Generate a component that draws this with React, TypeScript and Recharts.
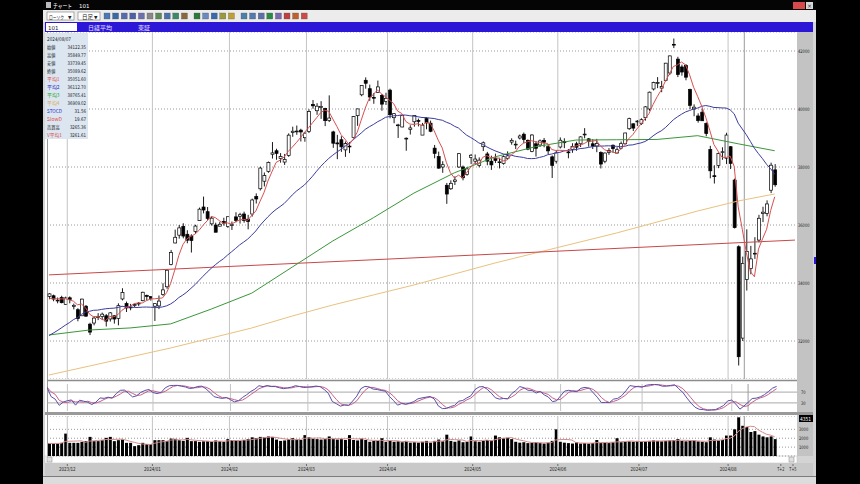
import React from 'react';
import { ComposedChart, Bar, Line, XAxis, YAxis, CartesianGrid, ReferenceLine } from 'recharts';

// 日経平均 日足 2023/11/24 - 2024/08/19
const priorCloses = [
  31430, 31259, 30999, 31062, 31269, 30601, 30991, 30696, 30858, 31601, 31949, 32708,
  32271, 32166, 32646, 32568, 32585, 32695, 33519, 33424, 33585, 33388, 33354, 33451,
];

const opens = [
  33540, 33560, 33390, 33500, 33260,
  33490, 33190, 33080, 32870, 33200, 32580, 32620, 32830, 32840, 32870, 32760, 32870, 32780, 33450, 33290, 33170, 33240, 33300, 33390, 33570, 33530,
  33200, 33210, 33600, 33870, 34640, 35380, 35650, 35950, 35680, 35620, 35780, 36150, 36620, 36460, 36040, 36000, 35960, 36120, 35950,
  36000, 36280, 36300, 36380, 36200, 36380, 36980, 37250, 37510, 37850, 38440, 38560, 38290, 38170, 38400, 39190, 39220, 39270, 39010,
  39230, 40160, 39940, 40050, 40020, 39600, 39210, 38830, 38940, 38590, 38720, 39020, 39770, 40490, 40990, 40700, 40400, 40570, 40470, 40260,
  40650, 39700, 39430, 39380, 38990, 39300, 39560, 39600, 39100, 39670, 39510, 38650, 38360, 38000, 37370, 37250, 37500, 38000, 38000, 37740, 38330,
  38200, 38050, 38700, 38450, 38200, 38300, 38150, 38120, 38300, 38860, 38770, 39000, 39130, 38920, 38540, 38800, 38760, 38920, 38700, 38350, 38200,
  38690, 38880, 38520, 38600, 38800, 38800, 39110, 38970, 38800, 38720, 38500, 38200, 38500, 38750, 38480, 38650, 38800, 39320, 39490, 39580,
  39500, 39700, 40000, 40690, 40900, 40720, 40980, 41240, 42230, 41720, 41450, 41500, 40670, 40000, 39760, 39890, 39500, 38600, 37700, 38050, 38520, 38300,
  38700, 37550, 35250, 32100, 34122, 34500, 35000, 35480, 36400, 36400, 37200, 37900,
];

const highs = [
  33650, 33600, 33500, 33560, 33530,
  33540, 33290, 33130, 33460, 33240, 32630, 32860, 32960, 32980, 32930, 33000, 32890, 33300, 33820, 33360, 33280, 33280, 33340, 33700, 33600, 33540,
  33300, 33570, 33990, 34480, 35140, 35840, 36000, 36060, 35820, 35680, 36010, 36600, 36980, 36620, 36290, 36080, 36110, 36250, 36290,
  36120, 36440, 36420, 36460, 36350, 36910, 37090, 38010, 37810, 38190, 38860, 38630, 38480, 38450, 39160, 39390, 39430, 39320, 39210,
  39990, 40310, 40200, 40270, 40040, 40470, 39250, 39110, 39060, 38880, 38860, 39760, 40010, 40820, 41090, 40840, 40550, 40980, 40520, 40560,
  40700, 39860, 39490, 39800, 39020, 39440, 39780, 39670, 39520, 39720, 39600, 38760, 38530, 38200, 37450, 37540, 37680, 38480, 38050, 38000, 38450,
  38430, 38330, 38880, 38520, 38390, 38460, 38320, 38400, 38540, 38990, 38910, 39120, 39190, 38950, 39130, 38890, 38950, 39000, 38770, 38400, 38570,
  39020, 38990, 38620, 38820, 38870, 39060, 39340, 39000, 38960, 38970, 38540, 38500, 38650, 38780, 38680, 38880, 39180, 39700, 39500, 39620,
  39680, 40100, 40600, 40940, 41100, 40970, 41590, 41840, 42430, 41800, 41530, 41550, 40700, 40160, 39850, 40000, 39540, 38730, 38060, 38500, 38680, 39180,
  38720, 37600, 35300, 34910, 35850, 35280, 35580, 36350, 36630, 36850, 38150, 38100,
];

const lows = [
  33440, 33370, 33300, 33300, 33250,
  33300, 33090, 32680, 32860, 32830, 32205, 32540, 32720, 32740, 32500, 32670, 32600, 32540, 33400, 33000, 33060, 33170, 33200, 33370, 33400, 33390,
  32690, 33100, 33560, 33800, 34610, 35370, 35530, 35540, 35370, 35050, 35700, 36150, 36400, 36160, 35980, 35750, 35950, 35980, 35900,
  35830, 36090, 36050, 36080, 35850, 36290, 36740, 37190, 37330, 37800, 38290, 38250, 38150, 38070, 38350, 39040, 39110, 38880, 38870,
  39170, 40010, 39800, 39660, 39410, 39550, 38660, 38270, 38520, 38350, 38480, 39020, 39420, 40440, 40700, 40280, 40180, 40560, 39940, 40140,
  39680, 39510, 39000, 39370, 38560, 39120, 39390, 39400, 39100, 39300, 39200, 38300, 37940, 37800, 36730, 37210, 37380, 37970, 37540, 37700, 38100,
  38100, 37990, 38550, 38060, 37900, 38140, 37950, 38080, 38240, 38770, 38620, 38950, 38820, 38580, 38510, 38360, 38690, 38680, 38440, 37620, 38120,
  38640, 38650, 38300, 38490, 38560, 38690, 38990, 38700, 38620, 38510, 37950, 38130, 38420, 38490, 38470, 38610, 38780, 39280, 39240, 39410,
  39450, 39600, 39940, 40640, 40720, 40580, 40950, 41170, 42100, 41100, 41150, 40990, 40000, 39750, 39530, 39590, 39060, 37610, 37430, 37960, 38250, 38100,
  37930, 35880, 31156, 32000, 33739, 34300, 34830, 35400, 36100, 36300, 37100, 37320,
];

const closes = [
  33625, 33447, 33408, 33321, 33486,
  33431, 33231, 32775, 33445, 32858, 32307, 32791, 32843, 32926, 32686, 32970, 32758, 33219, 33675, 33140, 33169, 33254, 33305, 33681, 33539, 33464,
  33288, 33377, 33763, 34441, 35049, 35577, 35901, 35619, 35477, 35466, 35963, 36546, 36517, 36226, 36236, 35751, 36026, 36065, 36286,
  36011, 36158, 36354, 36160, 36119, 36863, 36897, 37963, 37703, 38157, 38487, 38470, 38363, 38262, 39098, 39233, 39239, 39208, 39166,
  39910, 40109, 40097, 40090, 39598, 39688, 38820, 38797, 38695, 38807, 38707, 39740, 40003, 40815, 40888, 40414, 40398, 40762, 40168, 40369,
  39803, 39838, 39451, 39773, 38992, 39347, 39773, 39581, 39442, 39523, 39232, 38471, 37961, 38079, 37068, 37438, 37552, 38460, 37628, 37934, 38405,
  38274, 38236, 38835, 38202, 38073, 38229, 38179, 38356, 38385, 38920, 38787, 39069, 38946, 38617, 39103, 38646, 38900, 38855, 38556, 38054, 38487,
  38923, 38837, 38490, 38703, 38683, 39038, 39134, 38876, 38720, 38814, 38102, 38482, 38570, 38633, 38596, 38804, 39173, 39667, 39341, 39583,
  39631, 40074, 40580, 40913, 40912, 40780, 41580, 41831, 42224, 41190, 41275, 41097, 40126, 40063, 39599, 39594, 39154, 37869, 37667, 38468, 38526, 39101,
  38126, 35909, 31458, 34675, 35089, 34831, 35025, 36232, 36442, 36726, 38062, 37388,
];

// 売買高 (百万株)
const volumes = [
  1410, 1410, 1410, 1480, 2520,
  1480, 1480, 1480, 1590, 1670, 2150, 1670, 1670, 1780, 2040, 2150, 1670, 1780, 1850, 1480, 1480, 1110, 1220, 1480, 1330, 1330,
  1780, 1780, 1780, 1670, 1960, 1930, 1780, 1700, 2040, 1670, 1670, 1590, 1650, 1700, 1600, 1750, 1650, 1600, 1900,
  1800, 1750, 1700, 1800, 1900, 2100, 2000, 2150, 2100, 2200, 2150, 1850, 1700, 1750, 1900, 2000, 1850, 1800, 2350,
  2100, 1950, 1900, 1850, 1900, 2200, 1900, 1850, 1900, 1800, 2350, 1800, 1750, 1950, 1800, 1600, 1700, 1700, 2000, 1600,
  1700, 1600, 1650, 1550, 1700, 1500, 1550, 1500, 1600, 1700, 1500, 1700, 1850, 1650, 2400, 1700, 1600, 1750, 1550, 1600, 2200,
  1650, 1600, 1700, 1800, 1750, 2300, 2100, 2000, 2050, 1900, 1600, 1500, 1550, 1450, 1500, 1550, 1450, 1400, 1500, 1700, 3000,
  1600, 1500, 1450, 1400, 1550, 1400, 1450, 1400, 1450, 1800, 1450, 1500, 1450, 1550, 2000, 1550, 1600, 1650, 1600, 1700,
  1600, 1650, 1700, 1750, 1700, 1650, 1700, 1750, 1800, 1900, 1700, 1650, 1700, 1750, 1650, 1600, 1550, 2100, 1850, 1750, 1800, 2300,
  2300, 3000, 4351, 3400, 3265, 2700, 2800, 2400, 2200, 2100, 2200, 1900,
];

// 平均3 / 平均4 at every 10th session
const maSampleIdx = [0, 10, 20, 30, 40, 50, 60, 70, 80, 90, 100, 110, 120, 130, 140, 150, 160, 170, 179];
const ma75Samples = [32208, 32380, 32450, 32590, 33100, 33650, 34550, 35450, 36250, 37100, 37800, 38350, 38700, 38930, 38940, 38950, 39080, 38800, 38560];
const ma200Samples = [30828, 31138, 31449, 31759, 32104, 32449, 32862, 33242, 33587, 33932, 34311, 34690, 35035, 35380, 35725, 36104, 36483, 36828, 37070];

// trend line (drawn by hand on the chart)
const trendIdx = [0, 184];
const trendValues = [34280, 35480];

const futureSlots = 5;
const cursorIdx = 172;
const monthStarts = [5, 26, 45, 64, 84, 105, 126, 146, 168];
const dateLabels: Record<number, string> = {
  5: '2023/12', 26: '2024/01', 45: '2024/02', 64: '2024/03', 84: '2024/04',
  105: '2024/05', 126: '2024/06', 146: '2024/07', 168: '2024/08', 181: 'T+2', 184: 'T+5',
};
const priceTicks = [32000, 34000, 36000, 38000, 40000, 42000];
const stochTicks = [30, 70];
const volTicks = [1000, 2000, 3000];

const infoRows = [
  { k: '始値', v: '34122.35', c: '#222' },
  { k: '高値', v: '35849.77', c: '#222' },
  { k: '安値', v: '33739.45', c: '#222' },
  { k: '終値', v: '35089.62', c: '#222' },
  { k: '平均1', v: '35051.60', c: '#e04848' },
  { k: '平均2', v: '36112.70', c: '#2828c0' },
  { k: '平均3', v: '38765.41', c: '#28a028' },
  { k: '平均4', v: '36909.02', c: '#e0a850' },
  { k: 'STOCD', v: '31.56', c: '#2828c0' },
  { k: 'SlowD', v: '19.67', c: '#e04848' },
  { k: '売買高', v: '3265.36', c: '#222' },
  { k: 'V平均1', v: '3261.61', c: '#e04848' },
];

const toolIcons = [
  '#4a78b8', '#3a6aa8', '#5a6ab0', '#4a60a8', '#6a70b0', '#888', '#5a8a5a', '#4a70b0', '#3a8a6a', '#8a6a3a',
  '#2a7a3a', '#6a8ac0', '#3a6ab0', '#9a9a40', '#c0a030', '#4a80b0', '#507ab0', '#5a70a8', '#2a8a4a', '#7a6ab0',
  '#c04040', '#c06030', '#d04848',
];

// ---- derived series ----
const n = closes.length;
const sma = (vals: number[], len: number, prior: number[] = []) => {
  const all = [...prior, ...vals];
  return vals.map((_, k) => {
    const end = prior.length + k + 1;
    const w = all.slice(Math.max(0, end - len), end);
    return w.reduce((a, b) => a + b, 0) / w.length;
  });
};
const ma5 = sma(closes, 5, priorCloses);
const ma25 = sma(closes, 25, priorCloses);
const vma5 = sma(volumes, 5);

const num: number[] = [];
const den: number[] = [];
for (let k = 0; k < n; k++) {
  let hh = -Infinity;
  let ll = Infinity;
  for (let j = Math.max(0, k - 8); j <= k; j++) {
    hh = Math.max(hh, highs[j]);
    ll = Math.min(ll, lows[j]);
  }
  num.push(closes[k] - ll);
  den.push(hh - ll);
}
const stoD = num.map((_, k) => {
  let a = 0;
  let b = 0;
  for (let j = Math.max(0, k - 2); j <= k; j++) {
    a += num[j];
    b += den[j];
  }
  return b ? (a / b) * 100 : 50;
});
const slowD = stoD.map((_, k) => {
  const w = stoD.slice(Math.max(0, k - 2), k + 1);
  return w.reduce((x, y) => x + y, 0) / w.length;
});

const rows = Array.from({ length: n + futureSlots }, (_, i) => {
  const has = i < n;
  const s = maSampleIdx.indexOf(i);
  const t = trendIdx.indexOf(i);
  return {
    i,
    range: has ? [lows[i], highs[i]] : null,
    o: has ? opens[i] : null,
    h: has ? highs[i] : null,
    l: has ? lows[i] : null,
    c: has ? closes[i] : null,
    ma5: has ? ma5[i] : null,
    ma25: has ? ma25[i] : null,
    ma75: s >= 0 ? ma75Samples[s] : null,
    ma200: s >= 0 ? ma200Samples[s] : null,
    trend: t >= 0 ? trendValues[t] : null,
    stoD: has ? stoD[i] : null,
    slowD: has ? slowD[i] : null,
    vol: has ? volumes[i] : null,
    vma: has ? vma5[i] : null,
  };
});

// ---- drawing ----
const FONT = '"DejaVu Sans", "Noto Sans CJK JP", sans-serif';
const JP = '"Noto Sans CJK JP", sans-serif';
const CHART_W = 776;
const RIGHT_PAD = 10;
const AXIS_W = 16;
const GRID = '#c4c4c4';

const Candle = (props: any) => {
  const { x, y, width, height, payload } = props;
  if (!payload || payload.o == null) return <g />;
  const { o, h, l, c } = payload;
  const span = h - l || 1;
  const py = (v: number) => y + ((h - v) / span) * height;
  const cx = x + width / 2;
  const top = py(Math.max(o, c));
  const bot = py(Math.min(o, c));
  const up = c >= o;
  return (
    <g>
      <line x1={cx} x2={cx} y1={y} y2={y + height} stroke="#000" strokeWidth={0.9} />
      <rect x={x} y={top} width={width} height={Math.max(bot - top, 0.8)} fill={up ? '#fff' : '#000'} stroke="#000" strokeWidth={0.7} />
    </g>
  );
};

const AxisTick = (props: any) => {
  const { x, y, payload } = props;
  const s = String(payload.value);
  return (
    <text x={x} y={y + 2} fontSize={4.8} fill="#222" fontFamily={FONT} textLength={s.length * 2.3} lengthAdjust="spacingAndGlyphs">
      {s}
    </text>
  );
};

const DateTick = (props: any) => {
  const { x, y, payload } = props;
  const label = dateLabels[payload.value];
  if (!label) return <g />;
  const bx = x - 2;
  return (
    <g>
      <line x1={bx} x2={bx} y1={y + 8} y2={y + 10} stroke="#555" strokeWidth={0.8} />
      <text x={bx} y={y + 15} textAnchor="middle" fontSize={5.5} fill="#222" fontFamily={FONT} textLength={label.length * 2.4} lengthAdjust="spacingAndGlyphs">
        {label}
      </text>
    </g>
  );
};

const monthLines = () => [
  ...monthStarts.map((m) => <ReferenceLine key={`m${m}`} x={m} position="start" stroke={GRID} strokeWidth={1} />),
  <ReferenceLine key="cur" x={cursorIdx} position="start" stroke="#9c9c9c" strokeWidth={1} />,
];

const chartMargin = { top: 0, right: RIGHT_PAD, bottom: 0, left: 0 };

export default function App() {
  return (
    <div style={{ position: 'fixed', left: 0, top: 0, width: 860, height: 484, background: '#000', overflow: 'hidden' }}>
      {/* window background */}
      <svg width={860} height={484} style={{ position: 'absolute', left: 0, top: 0 }}>
        <rect x={43} y={0} width={773} height={484} fill="#d4d4d4" />
        <rect x={43} y={0} width={773} height={10} fill="#050505" />
        <rect x={43} y={10} width={773} height={12} fill="#ececec" />
        <rect x={45} y={22} width={768} height={10} fill="#2d17d6" />
        <rect x={45} y={32} width={752} height={424} fill="#fff" />
        <rect x={797} y={32} width={16} height={424} fill="#c3c3c3" />
        <line x1={47.5} x2={47.5} y1={32} y2={456} stroke="#9a9a9a" />
        <line x1={47} x2={797} y1={380.5} y2={380.5} stroke="#8c8c8c" strokeWidth={1.5} />
        <rect x={45} y={412} width={768} height={3} fill="#9a9a9a" />
        <rect x={45} y={456} width={752} height={7} fill="#fff" stroke="#bdbdbd" strokeWidth={0.5} />
        <rect x={47} y={457} width={5} height={5} fill="#e0e0e0" stroke="#888" strokeWidth={0.5} />
        <rect x={789} y={457} width={5} height={5} fill="#e0e0e0" stroke="#888" strokeWidth={0.5} />
        <rect x={45} y={463} width={768} height={13} fill="#c9c9c9" />
        <line x1={43} x2={816} y1={476.5} y2={476.5} stroke="#7c7c7c" />
        <rect x={43} y={477} width={773} height={7} fill="#dcdcdc" />
      </svg>

      {/* price panel */}
      <div style={{ position: 'absolute', left: 47, top: 32 }}>
        <ComposedChart width={CHART_W} height={347} data={rows} margin={chartMargin}>
          <CartesianGrid vertical={false} stroke="#9a9a9a" strokeDasharray="1 2" />
          <XAxis dataKey="i" type="category" hide />
          <YAxis orientation="right" width={AXIS_W} domain={[30690, 42655]} ticks={priceTicks} allowDataOverflow interval={0}
            tickLine={false} axisLine={false} tickSize={0} tickMargin={1} tick={AxisTick} />
          {monthLines()}
          <Line dataKey="ma200" stroke="#e8c27e" strokeWidth={1} dot={false} activeDot={false} connectNulls isAnimationActive={false} />
          <Line dataKey="trend" stroke="#c84848" strokeWidth={1} dot={false} activeDot={false} connectNulls isAnimationActive={false} />
          <Line dataKey="ma75" stroke="#3a963a" strokeWidth={1} dot={false} activeDot={false} connectNulls isAnimationActive={false} />
          <Bar dataKey="range" barSize={3} shape={Candle} isAnimationActive={false} />
          <Line dataKey="ma25" stroke="#3c3ca0" strokeWidth={1} dot={false} activeDot={false} isAnimationActive={false} />
          <Line dataKey="ma5" stroke="#d95050" strokeWidth={1} dot={false} activeDot={false} isAnimationActive={false} />
        </ComposedChart>
      </div>

      {/* stochastics panel */}
      <div style={{ position: 'absolute', left: 47, top: 380 }}>
        <ComposedChart width={CHART_W} height={32} data={rows} margin={{ ...chartMargin, top: 4, bottom: 1 }}>
          <XAxis dataKey="i" type="category" hide />
          <YAxis orientation="right" width={AXIS_W} domain={[0, 100]} ticks={stochTicks} allowDataOverflow interval={0}
            tickLine={false} axisLine={false} tickSize={0} tickMargin={4} tick={AxisTick} />
          {stochTicks.map((t) => <ReferenceLine key={t} y={t} stroke="#a8a8a8" strokeWidth={1} />)}
          {monthLines()}
          <Line dataKey="slowD" stroke="#c8608a" strokeWidth={1} dot={false} activeDot={false} isAnimationActive={false} />
          <Line dataKey="stoD" stroke="#5a50a8" strokeWidth={1} dot={false} activeDot={false} isAnimationActive={false} />
        </ComposedChart>
      </div>

      {/* volume panel + date axis */}
      <div style={{ position: 'absolute', left: 47, top: 416 }}>
        <ComposedChart width={CHART_W} height={58} data={rows} margin={chartMargin}>
          <CartesianGrid vertical={false} stroke="#9a9a9a" strokeDasharray="1 2" />
          <XAxis dataKey="i" type="category" interval={0} height={18} tickLine={false} axisLine={false}
            tickSize={0} tickMargin={0} tick={DateTick} />
          <YAxis orientation="right" width={AXIS_W} domain={[0, 4500]} ticks={volTicks} allowDataOverflow interval={0}
            tickLine={false} axisLine={false} tickSize={0} tickMargin={2} tick={AxisTick} />
          {monthLines()}
          <Bar dataKey="vol" barSize={3} fill="#000" isAnimationActive={false} />
          <Line dataKey="vma" stroke="#d88a8a" strokeWidth={1} dot={false} activeDot={false} isAnimationActive={false} />
        </ComposedChart>
      </div>

      {/* chrome, labels, info panel */}
      <svg width={860} height={484} style={{ position: 'absolute', left: 0, top: 0 }}>
        <rect x={46} y={2} width={5} height={6} fill="#bbb" />
        <text x={53} y={8} fontSize={6} fill="#fff" fontFamily={JP} textLength={19} lengthAdjust="spacingAndGlyphs">チャート</text>
        <text x={79} y={8} fontSize={5.5} fill="#fff" fontFamily={FONT}>101</text>
        <rect x={793} y={2} width={12} height={7} fill="#d84a4a" />
        <rect x={806} y={2} width={7} height={7} fill="#d8d8d8" />
        <text x={809.5} y={8} fontSize={6} fill="#333" textAnchor="middle" fontFamily={FONT}>×</text>

        <rect x={47} y={12} width={27} height={8} fill="#fff" stroke="#777" strokeWidth={0.6} />
        <text x={49} y={18.5} fontSize={5} fill="#222" fontFamily={JP} textLength={15} lengthAdjust="spacingAndGlyphs">ローソク</text>
        <text x={68} y={18.5} fontSize={4.5} fill="#222" fontFamily={FONT}>▼</text>
        <rect x={78} y={12} width={22} height={8} fill="#fff" stroke="#777" strokeWidth={0.6} />
        <text x={82} y={18.5} fontSize={5.5} fill="#222" fontFamily={JP}>日足</text>
        <text x={94} y={18.5} fontSize={4.5} fill="#222" fontFamily={FONT}>▼</text>
        {toolIcons.map((col, k) => (
          <rect key={k} x={104 + k * 8.6 + (k > 9 ? 4 : 0) + (k > 14 ? 4 : 0)} y={13} width={6} height={6} fill={col} stroke="#555" strokeWidth={0.3} />
        ))}

        <rect x={46} y={23} width={31} height={8} fill="#fff" />
        <text x={48} y={29.5} fontSize={5.5} fill="#222" fontFamily={FONT}>101</text>
        <text x={88} y={29.5} fontSize={6} fill="#e6e0ff" fontFamily={JP}>日経平均</text>
        <text x={138} y={29.5} fontSize={6} fill="#e6e0ff" fontFamily={JP}>東証</text>

        <rect x={45} y={33} width={43} height={106} fill="#dce6f1" />
        <text x={47} y={41} fontSize={5} fill="#222" fontFamily={FONT} textLength={24} lengthAdjust="spacingAndGlyphs">2024/08/07</text>
        {infoRows.map((r, k) => (
          <g key={r.k}>
            <text x={47} y={49 + k * 8} fontSize={5} fill={r.c} fontFamily={JP} textLength={Math.min(r.k.length * 4.2, 15)} lengthAdjust="spacingAndGlyphs">{r.k}</text>
            <text x={86} y={49 + k * 8} fontSize={5} fill="#222" textAnchor="end" fontFamily={FONT} textLength={r.v.length * 2.3} lengthAdjust="spacingAndGlyphs">{r.v}</text>
          </g>
        ))}

        <rect x={799} y={415} width={14} height={7} fill="#000" />
        <text x={800} y={420.5} fontSize={5.5} fill="#fff" fontFamily={FONT} textLength={11} lengthAdjust="spacingAndGlyphs">4351</text>
        <rect x={814} y={257} width={2} height={7} fill="#2d17d6" />
      </svg>
    </div>
  );
}
